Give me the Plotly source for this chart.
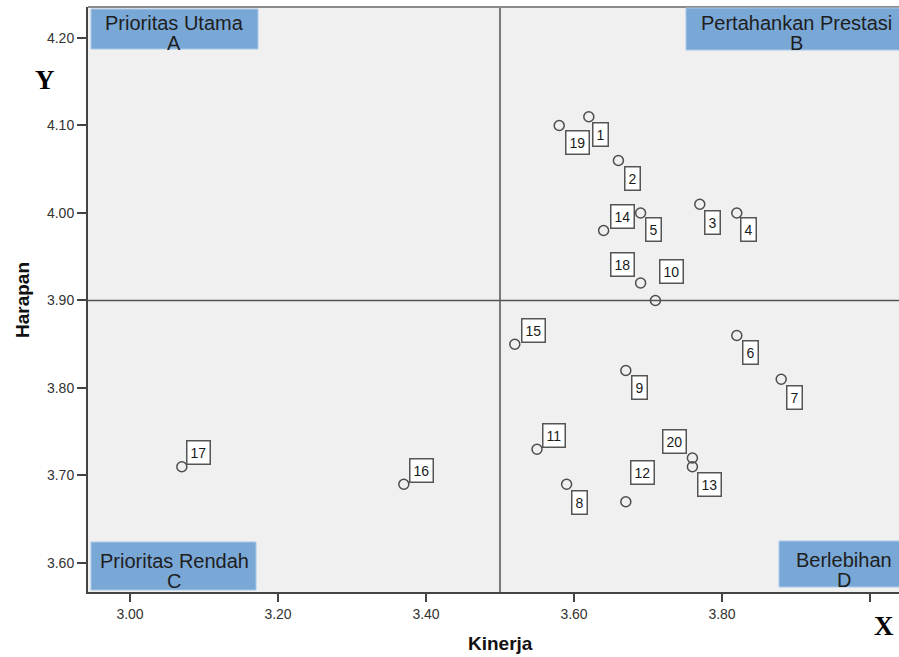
import plotly.graph_objects as go

# ---- data ----
labels = ["1", "2", "3", "4", "5", "6", "7", "8", "9", "10",
          "11", "12", "13", "14", "15", "16", "17", "18", "19", "20"]
kinerja = [3.62, 3.66, 3.77, 3.82, 3.69, 3.82, 3.88, 3.59, 3.67, 3.71,
           3.55, 3.67, 3.76, 3.64, 3.52, 3.37, 3.07, 3.69, 3.58, 3.76]
harapan = [4.11, 4.06, 4.01, 4.00, 4.00, 3.86, 3.81, 3.69, 3.82, 3.90,
           3.73, 3.67, 3.71, 3.98, 3.85, 3.69, 3.71, 3.92, 4.10, 3.72]
x_mean = 3.50
y_mean = 3.90
x_ticks = [3.0, 3.2, 3.4, 3.6, 3.8, 4.0]
x_ticktext = ["3.00", "3.20", "3.40", "3.60", "3.80", ""]
y_ticks = [3.6, 3.7, 3.8, 3.9, 4.0, 4.1, 4.2]
y_ticktext = ["3.60", "3.70", "3.80", "3.90", "4.00", "4.10", "4.20"]
quadrants = [("Prioritas Utama", "A"), ("Pertahankan Prestasi", "B"),
             ("Prioritas Rendah", "C"), ("Berlebihan", "D")]

# ---- style / layout ----
W, H = 899, 657
ML, MR, MT, MB = 88, 0, 7, 65
PW, PH = W - ML - MR, H - MT - MB
label_offsets = [(12, 18), (14, 18), (13, 18), (12, 17), (13, 17), (14, 17), (13, 18),
                 (13, 18), (14, 17), (16, -29), (17, -14), (17, -29), (17, 18), (19, -14),
                 (19, -14), (18, -14), (17, -14), (-18, -18), (18, 17), (-18, -16)]
FONT = "Liberation Sans, Arial, sans-serif"
SERIF = "Liberation Serif, Times New Roman, serif"
BLUE = "#7aa8d6"


def px(x):
    return (x - ML) / PW


def py(y):
    return 1 - (y - MT) / PH


fig = go.Figure()
fig.add_trace(go.Scatter(
    x=kinerja, y=harapan, mode="markers",
    marker=dict(symbol="circle-open", size=10, color="#4d4d4d", line=dict(width=1.5)),
    hoverinfo="x+y+text", text=labels, showlegend=False))

shapes = []
# mean reference lines
shapes.append(dict(type="line", xref="x", yref="paper", x0=x_mean, x1=x_mean, y0=0, y1=1,
                   line=dict(color="#555555", width=1.5), layer="below"))
shapes.append(dict(type="line", xref="paper", yref="y", x0=0, x1=1, y0=y_mean, y1=y_mean,
                   line=dict(color="#555555", width=1.5), layer="below"))
# top border
shapes.append(dict(type="line", xref="paper", yref="paper", x0=0, x1=1, y0=1, y1=1,
                   line=dict(color="#8a8a8a", width=2)))

# quadrant boxes (pixel boxes) and text line centres
boxes = [(91, 258, 9, 49), (686, 910, 8, 50), (91, 256, 542, 590), (779, 910, 541, 587)]
text_centres = [(174, 22, 42), (796, 22, 42), (174, 560, 580), (844, 559, 579)]
annotations = []
for (t1, t2), (x0, x1, y0, y1), (cx, c1, c2) in zip(quadrants, boxes, text_centres):
    shapes.append(dict(type="rect", xref="paper", yref="paper",
                       x0=px(x0), x1=px(x1), y0=py(y1), y1=py(y0),
                       fillcolor=BLUE, line=dict(color="#a9c8e8", width=1)))
    for t, cy in ((t1, c1), (t2, c2)):
        annotations.append(dict(text=t, xref="paper", yref="paper", x=px(cx), y=py(cy),
                                xanchor="center", yanchor="middle", showarrow=False,
                                height=19, valign="middle", borderpad=0,
                                font=dict(family=FONT, size=20, color="#1e1e1e")))

# point labels
for lab, xv, yv, (ox, oy) in zip(labels, kinerja, harapan, label_offsets):
    annotations.append(dict(text=lab, x=xv, y=yv, xref="x", yref="y", ax=ox, ay=oy,
                            showarrow=True, arrowcolor="rgba(0,0,0,0)", arrowwidth=0.1,
                            bgcolor="white", bordercolor="#555555", borderwidth=1.5,
                            borderpad=3, font=dict(family=FONT, size=14, color="#1a1a1a")))

# axis titles and X / Y letters
annotations.append(dict(text="<b>Kinerja</b>", xref="paper", yref="paper", x=px(500), y=py(643),
                        xanchor="center", yanchor="middle", showarrow=False,
                        font=dict(family=FONT, size=19, color="#111111")))
annotations.append(dict(text="<b>Harapan</b>", xref="paper", yref="paper", x=px(22), y=py(300),
                        xanchor="center", yanchor="middle", showarrow=False, textangle=-90,
                        font=dict(family=FONT, size=19, color="#111111")))
annotations.append(dict(text="<b>Y</b>", xref="paper", yref="paper", x=px(45), y=py(80),
                        xanchor="center", yanchor="middle", showarrow=False,
                        font=dict(family=SERIF, size=27, color="#000000")))
annotations.append(dict(text="<b>X</b>", xref="paper", yref="paper", x=px(884), y=py(626),
                        xanchor="center", yanchor="middle", showarrow=False,
                        font=dict(family=SERIF, size=27, color="#000000")))

fig.update_layout(
    width=W, height=H, margin=dict(l=ML, r=MR, t=MT, b=MB, pad=0),
    paper_bgcolor="white", plot_bgcolor="#f0f0f0",
    shapes=shapes, annotations=annotations,
    xaxis=dict(range=[2.9432, 4.0392], tickvals=x_ticks, ticktext=x_ticktext,
               showgrid=False, zeroline=False, showline=True, linecolor="#444444", linewidth=2,
               ticks="outside", ticklen=8, tickwidth=2, tickcolor="#444444",
               tickfont=dict(family=FONT, size=14, color="#333333")),
    yaxis=dict(range=[3.5668, 4.2354], tickvals=y_ticks, ticktext=y_ticktext,
               showgrid=False, zeroline=False, showline=True, linecolor="#444444", linewidth=2,
               ticks="outside", ticklen=9, tickwidth=1.5, tickcolor="#444444",
               tickfont=dict(family=FONT, size=14, color="#333333")),
)

fig.write_html("out.html", config={"displayModeBar": False},
               post_script="document.body.style.margin='0';document.body.style.overflow='hidden';")
